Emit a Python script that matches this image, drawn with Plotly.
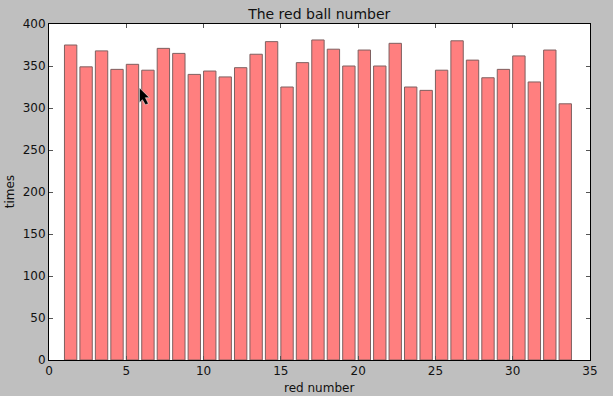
import plotly.graph_objects as go

red_numbers = list(range(1, 34))
times = [375, 349, 368, 346, 352, 345, 371, 365, 340, 344, 337, 348, 364, 379, 325, 354, 381,
         370, 350, 369, 350, 377, 325, 321, 345, 380, 357, 336, 346, 362, 331, 369, 305]
x_ticks = [0, 5, 10, 15, 20, 25, 30, 35]
y_ticks = [0, 50, 100, 150, 200, 250, 300, 350, 400]

FONT = "DejaVu Sans"
INK = "#111111"
W, H = 613, 396
L, R, T, B = 48.5, 23, 24.3, 35.7

def px(x, y):
    return (x - L) / (W - L - R), (H - B - y) / (H - T - B)

cursor = [(139, 88), (139, 103), (142, 100), (145, 105), (148, 104), (145, 98), (149, 98)]
cursor_path = "M " + " L ".join("%.4f %.4f" % px(*p) for p in cursor) + " Z"

fig = go.Figure(go.Bar(
    x=red_numbers, y=times, width=0.8, offset=0,
    marker=dict(color="#ff7f7f", line=dict(color="#7f6060", width=1)),
))
axis = dict(
    automargin=False, showgrid=False, zeroline=False, showline=True, linecolor="black", linewidth=1,
    mirror="ticks", ticks="inside", ticklen=4, tickwidth=1, tickcolor="#555555",
    tickfont=dict(family=FONT, size=12, color=INK),
)
fig.update_xaxes(range=[0, 35], tickvals=x_ticks, **axis)
fig.update_yaxes(range=[0, 400], tickvals=y_ticks, **axis)
label_font = dict(family=FONT, size=12, color=INK)
fig.update_layout(
    width=W, height=H, autosize=False,
    margin=dict(l=L, r=R, t=T, b=B),
    paper_bgcolor="#bfbfbf", plot_bgcolor="white", showlegend=False,
    title=dict(text="The red ball number", x=px(319, 0)[0], xref="paper", xanchor="center",
               y=1 - 14 / H, yanchor="middle", automargin=False,
               font=dict(family=FONT, size=14, color=INK)),
    annotations=[
        dict(text="red number", xref="paper", yref="paper", x=px(319, 0)[0], y=px(0, 388.5)[1],
             xanchor="center", yanchor="middle", showarrow=False, font=label_font),
        dict(text="times", xref="paper", yref="paper", x=px(9, 0)[0], y=px(0, 192)[1],
             xanchor="center", yanchor="middle", textangle=-90, showarrow=False, font=label_font),
    ],
    # mouse pointer captured in the original screenshot
    shapes=[dict(type="path", xref="paper", yref="paper", layer="above", path=cursor_path,
                 fillcolor="black", line=dict(color="white", width=0.5))],
)
fig.write_html("out.html", config=dict(displayModeBar=False),
               post_script="document.body.style.margin='0';document.documentElement.style.overflow='hidden';")
